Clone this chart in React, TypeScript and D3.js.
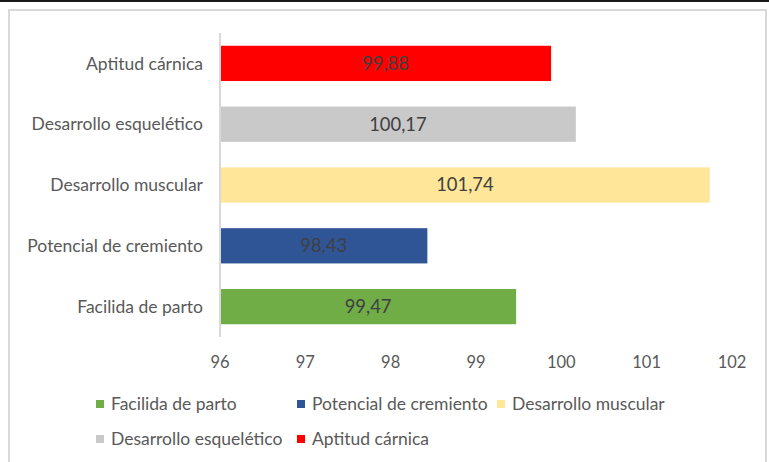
import React from "react";
import * as d3 from "d3";

const categories = ["Facilida de parto", "Potencial de cremiento", "Desarrollo muscular", "Desarrollo esquelético", "Aptitud cárnica"];
const values = [99.47, 98.43, 101.74, 100.17, 99.88];
const colors = ["#70ad47", "#2f5597", "#ffe699", "#c9c9c9", "#ff0000"];
const xTicks = [96, 97, 98, 99, 100, 101, 102];
const legendRows = [[0, 1, 2], [3, 4]];

const W = 769;
const H = 462;
const FONT = "Lato, 'Open Sans', sans-serif";

export default function App() {
  const x = d3.scaleLinear().domain([96, 102]).range([220, 732]);
  const y = d3
    .scaleBand<string>()
    .domain([...categories].reverse())
    .range([33, 337])
    .paddingInner(0.42)
    .paddingOuter(0.21);
  const fmt = (v: number) => v.toFixed(2).replace(".", ",");
  const legendX = [[96, 297, 497], [96, 297]];
  const legendY = [404, 439];

  return (
    <div style={{ position: "fixed", left: 0, top: 0 }}>
      <svg width={W} height={H} style={{ display: "block", background: "#fff" }}>
        <rect x={0} y={0} width={W} height={2} fill="#1a1a1a" />
        <rect x={9} y={10} width={757} height={H + 10} fill="#fff" stroke="#d9d9d9" strokeWidth={2} />
        {categories.map((c, i) => {
          const yy = y(c)!;
          return (
            <g key={c}>
              <rect x={x(96)} y={yy} width={x(values[i]) - x(96)} height={y.bandwidth()} fill={colors[i]} />
              <text
                x={(x(96) + x(values[i])) / 2}
                y={yy + y.bandwidth() / 2}
                dy="0.35em"
                textAnchor="middle"
                fontFamily={FONT}
                fontSize={18.4}
                fill="#404040"
              >
                {fmt(values[i])}
              </text>
              <text
                x={203}
                y={yy + y.bandwidth() / 2}
                dy="0.35em"
                textAnchor="end"
                fontFamily={FONT}
                fontSize={17.5}
                fill="#595959"
              >
                {c}
              </text>
            </g>
          );
        })}
        <line x1={220} x2={220} y1={33} y2={337} stroke="#d9d9d9" strokeWidth={2} />
        {xTicks.map((t) => (
          <text key={t} x={x(t)} y={362} dy="0.35em" textAnchor="middle" fontFamily={FONT} fontSize={16.5} fill="#595959">
            {t}
          </text>
        ))}
        {legendRows.map((row, ri) =>
          row.map((ci, k) => (
            <g key={ci}>
              <rect x={legendX[ri][k]} y={legendY[ri] - 4} width={8} height={8} fill={colors[ci]} />
              <text
                x={legendX[ri][k] + 15}
                y={legendY[ri]}
                dy="0.35em"
                fontFamily={FONT}
                fontSize={17.5}
                fill="#595959"
              >
                {categories[ci]}
              </text>
            </g>
          ))
        )}
      </svg>
    </div>
  );
}
